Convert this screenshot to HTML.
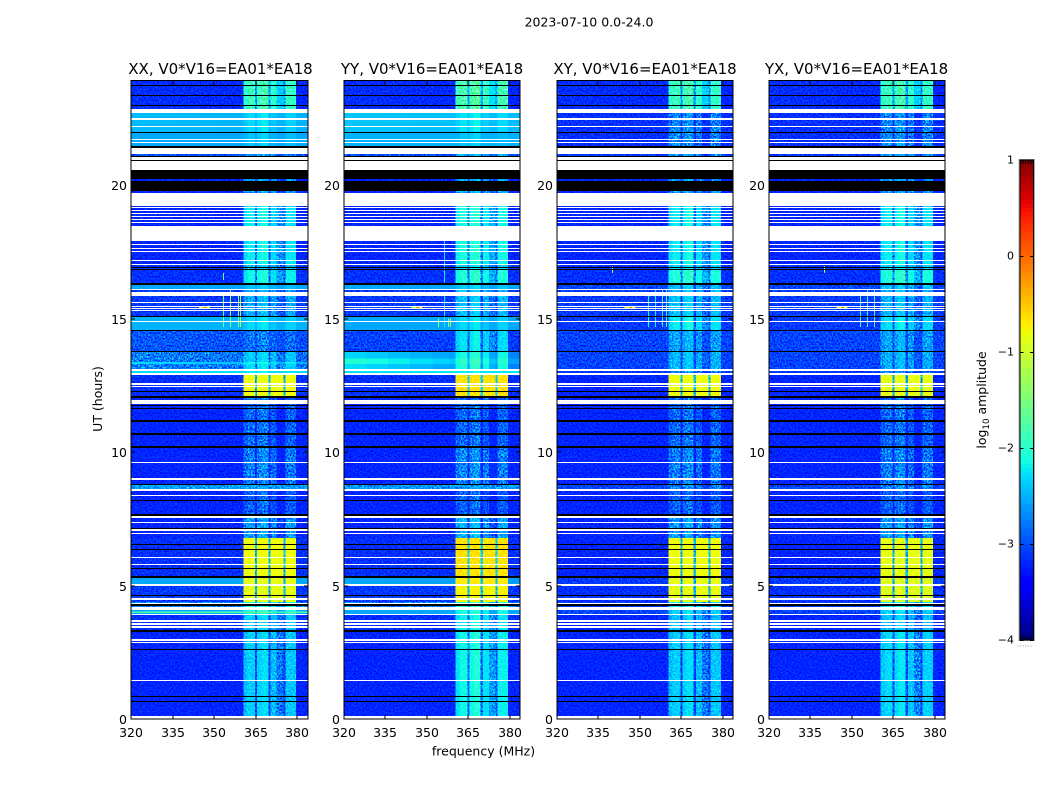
<!DOCTYPE html>
<html lang="en">
<head>
<meta charset="utf-8">
<title>2023-07-10 0.0-24.0</title>
<style>
html,body{margin:0;padding:0;background:#fff}
svg{display:block;font-family:"DejaVu Sans","Liberation Sans",sans-serif;fill:#000}
.tick{font-size:12.5px}
.title{font-size:15px}
</style>
</head>
<body>
<svg id="chart" xmlns="http://www.w3.org/2000/svg" width="1050" height="800" viewBox="0 0 1050 800">
<defs>
<filter id="grain" x="0" y="0" width="100%" height="100%" color-interpolation-filters="sRGB">
<feTurbulence type="fractalNoise" baseFrequency="0.62 0.55" numOctaves="2" seed="7"/>
<feColorMatrix type="matrix" values="2.6 0 0 0 -0.8  2.6 0 0 0 -0.8  2.6 0 0 0 -0.8  0 0 0 0 1"/>
</filter>
</defs>
<rect x="0" y="0" width="1050" height="800" fill="#fff"/>
<text x="589" y="26.5" text-anchor="middle" font-size="12.5">2023-07-10 0.0-24.0</text>
<text x="483.5" y="755.5" text-anchor="middle" font-size="12.5">frequency (MHz)</text>
<text transform="translate(102 399) rotate(-90)" text-anchor="middle" font-size="12.5">UT (hours)</text>
<text transform="translate(986 400) rotate(-90)" text-anchor="middle" font-size="12.5">log<tspan dy="3" font-size="8.7">10</tspan><tspan dy="-3"> amplitude</tspan></text>
<g id="panels"></g>
<g id="colorbar"></g>
</svg>
<script>
// Frequency channel edges (MHz) and per-segment RFI shape (log10 offsets)
const freqEdges = [320,328,336,344,352,358,360.5,362,364.7,365.5,367,369.5,370.3,372.5,374.9,375.7,379.5,383.8];
const quietProfile = [-3,-3,-3,-3,-3,-3,-0.1,0,-0.7,0,0.08,-0.7,-0.1,-0.45,-0.75,-0.05,-3];
const blockProfile = [-3,-3,-3,-3,-3,-3,0,0,-1.7,0,0,-1.7,0,0,-1.7,0,-3];

// Axis tick labels
const freqTicks = [320,335,350,365,380];
const timeTicks = [0,5,10,15,20];
const colorTicks = [1,0,-1,-2,-3,-4];

// Time ranges (UT hours) flagged white — no data
const whiteFlags = [[0,0.11],[1.42,1.46],[2.865,2.90],[2.94,2.98],[3.41,3.50],[3.52,3.60],[3.65,3.71],[3.88,3.93],[4.10,4.18],[4.31,4.36],[4.46,4.53],[5.00,5.06],[5.79,5.82],[6.03,6.07],[6.95,6.98],[7.06,7.10],[7.34,7.38],[7.53,7.60],[8.35,8.39],[8.54,8.60],[8.97,9.01],[9.59,9.63],[11.80,11.95],[12.44,12.47],[12.53,12.57],[12.88,12.96],[13.05,13.11],[14.87,14.91],[15.28,15.32],[15.36,15.39],[15.45,15.49],[15.58,15.62],[15.84,15.99],[16.07,16.10],[17.00,17.04],[17.15,17.19],[17.49,17.53],[17.60,17.64],[17.75,17.79],[17.90,18.46],[18.58,18.62],[18.69,18.73],[18.80,18.84],[18.91,18.95],[19.03,19.07],[19.14,19.18],[19.21,19.70],[20.56,20.91],[20.94,21.04],[21.16,21.39],[21.57,21.61],[21.69,21.72],[22.17,22.21],[22.45,22.51],[22.70,22.85]];

// Time ranges (UT hours) flagged black — zero amplitude
const blackFlags = [[0.66,0.69],[0.82,0.86],[2.61,2.64],[3.26,3.35],[4.23,4.31],[4.61,4.64],[5.30,5.36],[5.64,5.67],[6.32,6.35],[6.52,6.55],[7.12,7.17],[7.62,7.68],[8.15,8.20],[8.76,8.80],[10.17,10.22],[10.64,10.71],[11.14,11.20],[11.63,11.66],[11.75,11.78],[12.02,12.10],[12.25,12.28],[13.75,13.78],[14.53,14.59],[15.06,15.09],[16.27,16.33],[16.84,16.87],[16.89,16.92],[19.78,20.15],[20.22,20.56],[20.91,20.94],[21.04,21.09],[21.39,21.46],[21.97,22.00],[22.98,23.01],[23.36,23.39],[23.73,23.76]];

// Per-polarisation bands: [t start, t end, base at 320 MHz, base at 384 MHz, RFI level] (log10 amplitude)
const levelsXX = [[0.11,3.30,-3.2,-3.2,-2.35],[3.30,3.93,-3.15,-3.15,-2.35],[3.93,4.10,-2.55,-2.55,-2.1],[3.97,4.02,-1.8,-1.8,-1.7],[4.10,4.38,-2.7,-2.7,-2.1],[4.38,5.00,-3.1,-3.1,-0.85],[5.00,5.33,-2.55,-2.55,-0.85],[5.33,6.78,-3.15,-3.15,-0.8],[6.78,7.60,-3.2,-3.2,-2.6],[7.60,8.55,-3.2,-3.2,-2.9],[8.55,8.78,-2.6,-2.6,-2.6],[8.78,10.2,-3.2,-3.2,-2.75],[10.2,12.1,-3.2,-3.2,-2.85],[12.1,12.88,-3.15,-3.15,-0.8],[12.88,13.05,-2.3,-2.3,-2.2],[13.05,13.3,-2.75,-2.8,-2.3],[13.3,13.38,-2.3,-2.5,-2.15],[13.38,13.75,-2.75,-2.85,-2.35],[13.75,14.53,-2.95,-3.0,-2.8],[14.53,15.08,-2.5,-2.5,-2.3],[15.08,16.07,-3.1,-3.1,-2.5],[16.07,16.33,-2.55,-2.55,-2.4],[16.33,16.85,-3.15,-3.15,-2.15],[16.85,17.0,-3.15,-3.15,-2.4],[17.0,19.7,-3.2,-3.2,-2.2],[19.7,21.0,-3.2,-3.2,-2.6],[21.0,21.46,-3.0,-3.0,-2.6],[21.46,22.0,-2.55,-2.55,-2.4],[22.0,22.7,-2.45,-2.5,-2.3],[22.85,23.9,-3.15,-3.2,-1.9]];
const levelsYY = [[0.11,3.30,-3.2,-3.2,-2.15],[3.30,3.93,-3.15,-3.15,-2.2],[3.93,4.10,-2.55,-2.55,-2.1],[4.10,4.38,-2.75,-2.75,-2.0],[4.38,5.00,-3.1,-3.1,-0.75],[5.00,5.33,-2.55,-2.6,-0.7],[5.33,6.78,-3.15,-3.15,-0.65],[6.78,7.60,-3.2,-3.2,-2.5],[7.60,8.55,-3.2,-3.2,-2.9],[8.55,8.78,-2.65,-2.65,-2.6],[8.78,10.2,-3.2,-3.2,-2.7],[10.2,12.1,-3.2,-3.2,-2.85],[12.1,12.88,-3.15,-3.15,-0.65],[12.88,13.05,-2.25,-2.25,-2.2],[13.05,13.3,-2.25,-2.75,-2.05],[13.3,13.5,-2.0,-2.6,-1.95],[13.5,13.75,-2.3,-2.75,-2.1],[13.75,14.53,-3.05,-3.1,-2.25],[14.53,15.08,-2.55,-2.55,-2.3],[15.08,16.07,-3.1,-3.1,-2.4],[16.07,16.33,-2.55,-2.55,-2.35],[16.33,16.85,-3.15,-3.15,-2.05],[16.85,17.0,-3.15,-3.15,-2.3],[17.0,19.7,-3.2,-3.2,-2.1],[19.7,21.0,-3.2,-3.2,-2.5],[21.0,21.46,-3.0,-3.0,-2.5],[21.46,22.0,-2.5,-2.5,-2.4],[22.0,22.7,-2.4,-2.45,-2.25],[22.85,23.9,-3.15,-3.2,-1.8]];
const levelsXY = [[0.11,3.30,-3.2,-3.2,-2.35],[3.30,3.93,-3.2,-3.2,-2.4],[3.93,4.10,-3.05,-3.05,-2.3],[4.10,4.38,-3.1,-3.1,-2.2],[4.38,5.00,-3.15,-3.15,-0.85],[5.00,5.33,-3.1,-3.1,-0.85],[5.33,6.78,-3.2,-3.2,-0.8],[6.78,7.60,-3.2,-3.2,-2.6],[7.60,8.55,-3.2,-3.2,-2.9],[8.55,8.78,-3.05,-3.05,-2.7],[8.78,10.2,-3.2,-3.2,-2.75],[10.2,12.1,-3.2,-3.2,-2.85],[12.1,12.88,-3.2,-3.2,-0.8],[12.88,13.05,-3.1,-3.1,-2.7],[13.05,13.75,-3.05,-3.05,-2.45],[13.75,14.53,-3.05,-3.05,-2.55],[14.53,15.08,-3.1,-3.1,-2.2],[15.08,16.07,-3.1,-3.1,-2.4],[16.07,16.33,-3.05,-3.05,-2.4],[16.33,16.85,-3.15,-3.15,-2.05],[16.85,17.0,-3.15,-3.15,-2.3],[17.0,19.7,-3.2,-3.2,-2.2],[19.7,21.0,-3.2,-3.2,-2.6],[21.0,21.46,-3.1,-3.1,-2.6],[21.46,22.7,-3.15,-3.15,-2.7],[22.85,23.9,-3.15,-3.2,-1.9]];
const levelsYX = [[0.11,3.30,-3.2,-3.2,-2.3],[3.30,3.93,-3.2,-3.2,-2.4],[3.93,4.10,-3.05,-3.05,-2.3],[4.10,4.38,-3.1,-3.1,-2.2],[4.38,5.00,-3.15,-3.15,-0.9],[5.00,5.33,-3.1,-3.1,-0.9],[5.33,6.78,-3.2,-3.2,-0.85],[6.78,7.60,-3.2,-3.2,-2.6],[7.60,8.55,-3.2,-3.2,-2.9],[8.55,8.78,-3.05,-3.05,-2.7],[8.78,10.2,-3.2,-3.2,-2.75],[10.2,12.1,-3.2,-3.2,-2.85],[12.1,12.88,-3.2,-3.2,-0.85],[12.88,13.05,-3.1,-3.1,-2.7],[13.05,13.75,-3.05,-3.05,-2.5],[13.75,14.53,-3.05,-3.05,-2.55],[14.53,15.08,-3.1,-3.1,-2.25],[15.08,16.07,-3.1,-3.1,-2.45],[16.07,16.33,-3.05,-3.05,-2.4],[16.33,16.85,-3.15,-3.15,-2.05],[16.85,17.0,-3.15,-3.15,-2.3],[17.0,19.7,-3.2,-3.2,-2.2],[19.7,21.0,-3.2,-3.2,-2.6],[21.0,21.46,-3.1,-3.1,-2.6],[21.46,22.7,-3.15,-3.15,-2.7],[22.85,23.9,-3.15,-3.2,-1.9]];

// Narrow-band interference: [frequency MHz, t start, t end, log10 amplitude]
const spikesXX = [[353.2,14.68,15.88,-1.5],[355.7,14.68,16.1,-1.3],[358.7,14.68,15.88,-1.3],[359.4,14.68,15.88,-1.3],[353.2,16.44,16.7,-1.7]];
const spikesYY = [[356.4,14.68,15.88,-2.2],[356.4,16.35,17.9,-2.2],[354.0,14.68,15.0,-1.3],[357.6,14.68,15.0,-1.3],[358.6,14.68,15.0,-1.3]];
const spikesXY = [[353.0,14.68,15.88,-2.1],[355.4,14.68,16.1,-2.2],[358.2,14.68,16.1,-1.9],[359.6,14.68,16.1,-1.9],[340.0,16.7,16.95,-1.0]];
const spikesYX = [[353.0,14.68,15.88,-1.9],[355.4,14.68,16.1,-2.0],[358.2,14.68,16.1,-1.7],[340.0,16.7,16.95,-1.0]];

// Short narrow-time bursts shared by all panels: [f start, f end, t, log10 amplitude]
const bursts = [[344.5,348.5,15.42,-1.1],[346.2,347.2,15.42,0.1]];

// Polarisation panels
const panelNames = ['XX','YY','XY','YX'];
const panelTitles = ['XX, V0*V16=EA01*EA18','YY, V0*V16=EA01*EA18','XY, V0*V16=EA01*EA18','YX, V0*V16=EA01*EA18'];
const panelLevels = [levelsXX,levelsYY,levelsXY,levelsYX];
const panelSpikes = [spikesXX,spikesYY,spikesXY,spikesYX];

const NS = 'http://www.w3.org/2000/svg';
const layout = {lefts:[131,344,557,769], widths:[177,176,176,176], titleCentres:[220.5,432,645,856.5], top:81, bottom:719};
const FMIN = 320, FMAX = 383.8, TMAX = 23.9, CMIN = -4, CMAX = 1;
const SMOOTH_BASE = -2.6;

function add(parent, tag, attrs){
  const el = document.createElementNS(NS, tag);
  for (const k in attrs) el.setAttribute(k, attrs[k]);
  parent.appendChild(el);
  return el;
}
function lerpTable(table, f){
  for (let i = 1; i < table.length; i++){
    if (f <= table[i][0]){
      const a = table[i-1], b = table[i];
      return a[1] + (b[1]-a[1]) * (f-a[0]) / (b[0]-a[0]);
    }
  }
  return table[table.length-1][1];
}
const jetR = [[0,0],[.35,0],[.66,1],[.89,1],[1,.5]];
const jetG = [[0,0],[.125,0],[.375,1],[.64,1],[.91,0],[1,0]];
const jetB = [[0,.5],[.11,1],[.34,1],[.65,0],[1,0]];
function jet(v){
  const f = Math.max(0, Math.min(1, (v-CMIN)/(CMAX-CMIN)));
  const c = t => Math.round(255*lerpTable(t, f));
  return 'rgb('+c(jetR)+','+c(jetG)+','+c(jetB)+')';
}
function xAxis(left, width){ return f => left + (f-FMIN) * width / (FMAX-FMIN); }
function yAxis(t){ return layout.bottom - t * (layout.bottom-layout.top) / TMAX; }

const panelsRoot = document.getElementById('panels');
panelNames.forEach((pol, p) => {
  const left = layout.lefts[p];
  const width = layout.widths[p];
  const x = xAxis(left, width);
  const right = left + width;
  const g = add(panelsRoot, 'g', {});
  
  

  const cells = add(g, 'g', {'shape-rendering':'crispEdges'});
  
  

  const grain = add(g, 'rect', {x:left, y:layout.top, width:width, height:layout.bottom-layout.top, filter:'url(#grain)', style:'mix-blend-mode:overlay', opacity:'0.9'});
  
  

  const smooth = add(g, 'g', {'shape-rendering':'crispEdges'});
  
  

  panelLevels[p].forEach(row => {
    const t0 = row[0], t1 = row[1], base0 = row[2], base1 = row[3], rfi = row[4];
    const profile = rfi > -1.5 ? blockProfile : quietProfile;
    const target = base0 > SMOOTH_BASE ? smooth : cells;
    for (let i = 0; i < freqEdges.length-1; i++){
      const f0 = freqEdges[i], f1 = freqEdges[i+1];
      const fm = (f0+f1)/2;
      const base = base0 + (base1-base0) * (fm-FMIN)/(FMAX-FMIN);
      const value = Math.max(base, rfi + profile[i]);
      const cell = add(target, 'rect', {x:x(f0), y:yAxis(t1), width:x(f1)-x(f0), height:yAxis(t0)-yAxis(t1), fill:jet(value)});
      
      
    }
  });
  panelSpikes[p].forEach(s => {
    const spike = add(smooth, 'rect', {x:Math.round(x(s[0])), y:yAxis(s[2]), width:1, height:yAxis(s[1])-yAxis(s[2]), fill:jet(s[3])});
    
    
  });
  bursts.forEach(b => {
    const burst = add(smooth, 'rect', {x:x(b[0]), y:Math.round(yAxis(b[2])), width:x(b[1])-x(b[0]), height:1, fill:jet(b[3])});
    
    
  });

  const flags = add(g, 'g', {'shape-rendering':'crispEdges'});
  
  
  const flagRect = (b, color) => {
    const yTop = Math.round(yAxis(b[1]));
    const yBot = Math.round(yAxis(b[0]));
    return add(flags, 'rect', {x:left, y:yTop, width:width, height:Math.max(1, yBot-yTop), fill:color});
  };
  whiteFlags.forEach(b => {
    const r = flagRect(b, '#fff');
    
    
  });
  blackFlags.forEach(b => {
    const r = flagRect(b, '#000');
    
    
  });

  const frame = add(g, 'rect', {x:left, y:layout.top-0.5, width:width, height:layout.bottom-layout.top+0.5, fill:'none', stroke:'#000', 'stroke-width':1});
  
  

  const title = add(g, 'text', {x:layout.titleCentres[p], y:74, 'text-anchor':'middle', class:'title'});
  title.textContent = panelTitles[p];
  
  

  freqTicks.forEach(f => {
    const px = Math.round(x(f));
    const t1 = add(g, 'line', {x1:px, x2:px, y1:layout.bottom, y2:layout.bottom-4, stroke:'#000'});
    
    
    const t2 = add(g, 'line', {x1:px, x2:px, y1:layout.top, y2:layout.top+4, stroke:'#000'});
    
    
    const lab = add(g, 'text', {x:px, y:737, 'text-anchor':'middle', class:'tick'});
    lab.textContent = f;
    
    
  });
  timeTicks.forEach(t => {
    const py = Math.round(yAxis(t));
    const t1 = add(g, 'line', {x1:left, x2:left+4, y1:py, y2:py, stroke:'#000'});
    
    
    const t2 = add(g, 'line', {x1:right, x2:right-4, y1:py, y2:py, stroke:'#000'});
    
    
    const lab = add(g, 'text', {x:left-4, y:py+5, 'text-anchor':'end', class:'tick'});
    lab.textContent = t;
    
    
  });
});

// Colour bar
const cbRoot = document.getElementById('colorbar');
const cb = {left:1019.5, right:1034, top:160, bottom:640};
function cbY(v){ return cb.bottom - (v-CMIN) * (cb.bottom-cb.top) / (CMAX-CMIN); }
const cbSteps = 120;
const cbGroup = add(cbRoot, 'g', {'shape-rendering':'crispEdges'});


for (let i = 0; i < cbSteps; i++){
  const v0 = CMIN + (CMAX-CMIN)*i/cbSteps, v1 = CMIN + (CMAX-CMIN)*(i+1)/cbSteps;
  const r = add(cbGroup, 'rect', {x:cb.left, y:cbY(v1), width:cb.right-cb.left, height:cbY(v0)-cbY(v1), fill:jet((v0+v1)/2)});
  
  
}
const cbOuter = add(cbRoot, 'rect', {x:cb.left-0.5, y:cb.top-0.5, width:cb.right-cb.left+1, height:cb.bottom-cb.top+1, fill:'none', stroke:'#aaa', 'stroke-width':1});


const cbInner = add(cbRoot, 'rect', {x:cb.left+0.5, y:cb.top, width:cb.right-cb.left-1, height:cb.bottom-cb.top, fill:'none', stroke:'#000', 'stroke-width':1});


colorTicks.forEach(v => {
  const py = Math.round(cbY(v));
  const a = add(cbRoot, 'line', {x1:cb.left, x2:cb.left+4, y1:py+0.5, y2:py+0.5, stroke:'#000'});
  
  
  const b = add(cbRoot, 'line', {x1:cb.right, x2:cb.right-4, y1:py+0.5, y2:py+0.5, stroke:'#000'});
  
  
  const lab = add(cbRoot, 'text', {x:1014, y:py+3.5, 'text-anchor':'end', 'font-size':'11'});
  lab.textContent = String(v).replace('-', '\u2212');
  
  
});
[0,1,2,3,4,5].forEach(i => {
  const px = 1020.5 + i*2.6;
  const t = add(cbRoot, 'line', {x1:px, x2:px, y1:cb.top, y2:cb.top+4, stroke:'#000'});
  
  
  const u = add(cbRoot, 'line', {x1:px, x2:px, y1:cb.bottom, y2:cb.bottom-4, stroke:'#000'});
  
  
  const d = add(cbRoot, 'rect', {x:px-3, y:645.5, width:1, height:1, fill:'#999'});
  
  
});
</script>
</body>
</html>
